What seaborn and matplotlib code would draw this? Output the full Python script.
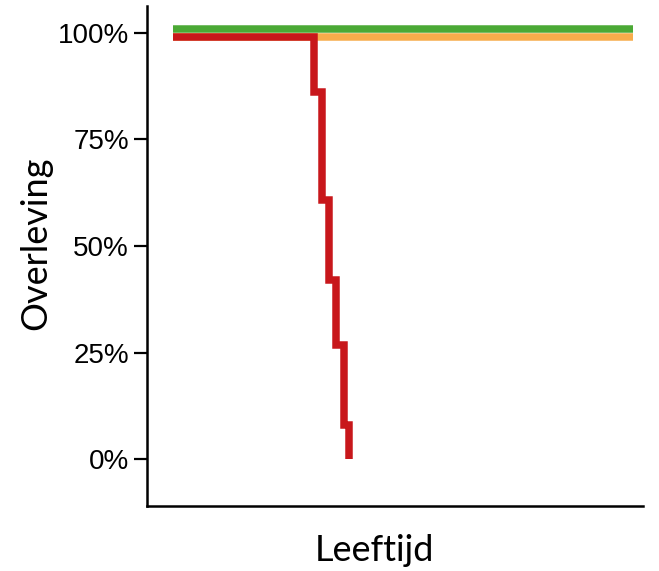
import pandas as pd
import matplotlib
matplotlib.use("Agg")
import matplotlib.pyplot as plt
import seaborn as sns

# survival curves (time in arbitrary units, survival in %)
green_time = [0, 90]
green_surv = [100.8, 100.8]
orange_time = [0, 90]
orange_surv = [99.1, 99.1]
red_time = [0, 27.7, 29.1, 30.5, 32.0, 33.4, 34.5]
red_surv = [99.1, 86.2, 60.9, 42.1, 26.9, 8.1, 0]

groups = ["groen", "oranje", "rood"]
colors = ["#4BA935", "#F7AC4B", "#C8171B"]
y_ticks = [0, 25, 50, 75, 100]
y_ticklabels = ["0%", "25%", "50%", "75%", "100%"]

df = pd.concat([
    pd.DataFrame({"tijd": green_time, "overleving": green_surv, "groep": groups[0]}),
    pd.DataFrame({"tijd": orange_time, "overleving": orange_surv, "groep": groups[1]}),
    pd.DataFrame({"tijd": red_time, "overleving": red_surv, "groep": groups[2]}),
])

sns.set_style("white")
plt.rcParams.update({
    "text.color": "black",
    "axes.labelcolor": "black",
    "ytick.color": "black",
    "xtick.color": "black",
})

fig = plt.figure(figsize=(6.59, 5.71), dpi=100)
ax = fig.add_axes([0.223, 0.114, 0.753, 0.875])

sns.lineplot(data=df, x="tijd", y="overleving", hue="groep", hue_order=groups,
             palette=colors, drawstyle="steps-post", linewidth=5.4,
             estimator=None, legend=False, ax=ax,
             solid_capstyle="butt", solid_joinstyle="miter")

ax.set_xlim(-5.0, 91.9)
ax.set_ylim(-10.9, 106.2)
ax.set_xticks([])
ax.set_yticks(y_ticks)
ax.set_yticklabels(y_ticklabels, fontfamily="Liberation Sans", fontsize=20, color="black")
ax.tick_params(axis="y", left=True, length=9.5, width=1.6, pad=3.5, color="black")

for side in ["top", "right"]:
    ax.spines[side].set_visible(False)
for side in ["left", "bottom"]:
    ax.spines[side].set_color("black")
    ax.spines[side].set_linewidth(1.8)

ax.set_ylabel("Overleving", fontfamily="Lato", fontsize=26, color="black")
ax.set_xlabel("Leeftijd", fontfamily="Lato", fontsize=26, color="black")
ax.yaxis.set_label_coords(-0.19, 0.526)
ax.xaxis.set_label_coords(0.458, -0.057)

fig.savefig("out.png", dpi=100)
